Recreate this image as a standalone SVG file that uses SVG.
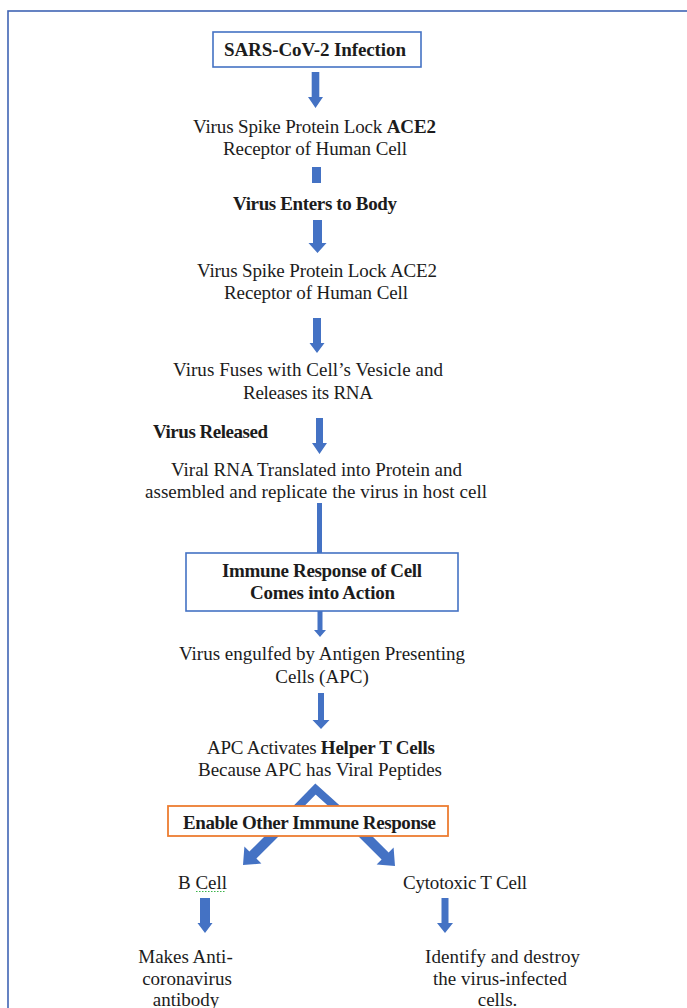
<svg xmlns="http://www.w3.org/2000/svg" width="687" height="1008" viewBox="0 0 687 1008">
<style>
text{font-family:"Liberation Serif","Times New Roman",serif;font-size:19px;fill:#1c1c1c;text-anchor:middle}
.b{font-weight:bold}
.box{fill:#fff;stroke:#4472c4;stroke-width:1.6}
.obox{fill:#fff;stroke:#ed7d31;stroke-width:1.8}
.arr{fill:#4472c4}
</style>
<rect x="0" y="0" width="687" height="1008" fill="#fff"/>
<rect x="8" y="11" width="700" height="1010" fill="none" stroke="#4064b4" stroke-width="1.6"/>
<g id="connectors">
<polygon class="arr" points="311.7,72 319.3,72 319.3,97 323,97 315.5,108 308,97 311.7,97"/>
<rect class="arr" x="312" y="167" width="9" height="16"/>
<polygon class="arr" points="313,220 322,220 322,243 326.5,243 317.5,253 308.5,243 313,243"/>
<polygon class="arr" points="313,318 321,318 321,343 324.5,343 317,353 309.5,343 313,343"/>
<polygon class="arr" points="316,418 323,418 323,443 327,443 319.5,454 312,443 316,443"/>
<rect class="arr" x="317" y="503" width="5" height="52"/>
<polygon class="arr" points="317.5,609 322.5,609 322.5,630 326,630 320,637 314,630 317.5,630"/>
<polygon class="arr" points="318,693 324,693 324,720 329.5,720 321,729 312.5,720 318,720"/>
<polyline points="293,812 315.5,789 341,812" fill="none" stroke="#4472c4" stroke-width="8" stroke-linejoin="miter"/>
<polygon class="arr" points="279.5,835.5 256.4,858.6 261.4,863.6 243,865 244.4,846.6 249.4,851.6 272.5,828.5"/>
<polygon class="arr" points="356.5,834.5 381.6,859.6 376.6,864.6 395,866 393.6,847.6 388.6,852.6 363.5,827.5"/>
<polygon class="arr" points="200,898 210,898 210,923 212.5,923 205,933 197.5,923 200,923"/>
<polygon class="arr" points="441.5,898 448.5,898 448.5,923 453,923 445,933 437,923 441.5,923"/>
</g>
<g id="n1">
<rect class="box" x="213" y="32" width="208" height="35"/>
<text class="b" x="315" y="56" textLength="182">SARS-CoV-2 Infection</text>
</g>
<g id="n2">
<text x="314.5" y="133" textLength="243">Virus Spike Protein Lock <tspan class="b">ACE2</tspan></text>
<text x="315" y="155" textLength="184">Receptor of Human Cell</text>
</g>
<g id="n3">
<text class="b" x="315" y="210" textLength="164">Virus Enters to Body</text>
</g>
<g id="n4">
<text x="317" y="277" textLength="240">Virus Spike Protein Lock ACE2</text>
<text x="316" y="299" textLength="184">Receptor of Human Cell</text>
</g>
<g id="n5">
<text x="308" y="376" textLength="270">Virus Fuses with Cell’s Vesicle and</text>
<text x="308" y="399" textLength="130">Releases its RNA</text>
</g>
<g id="n6">
<text class="b" x="210.5" y="438" textLength="115">Virus Released</text>
</g>
<g id="n7">
<text x="316.5" y="476" textLength="291">Viral RNA Translated into Protein and</text>
<text x="316" y="498" textLength="342">assembled and replicate the virus in host cell</text>
</g>
<g id="n8">
<rect class="box" x="186" y="553" width="272" height="58"/>
<text class="b" x="322" y="577" textLength="200">Immune Response of Cell</text>
<text class="b" x="322.5" y="599" textLength="145">Comes into Action</text>
</g>
<g id="n9">
<text x="322" y="660" textLength="286">Virus engulfed by Antigen Presenting</text>
<text x="322" y="683">Cells (APC)</text>
</g>
<g id="n10">
<text x="321" y="754" textLength="228">APC Activates <tspan class="b">Helper T Cells</tspan></text>
<text x="320" y="776" textLength="244">Because APC has Viral Peptides</text>
</g>
<g id="n11">
<rect class="obox" x="168" y="806" width="280" height="30"/>
<text class="b" x="309.5" y="829" textLength="253">Enable Other Immune Response</text>
</g>
<g id="n12">
<text x="202.5" y="889">B Cell</text>
<line x1="196" y1="891.5" x2="225" y2="891.5" stroke="#3cb44b" stroke-width="1.2" stroke-dasharray="1.5,1.5"/>
</g>
<g id="n13">
<text x="465" y="889" textLength="124">Cytotoxic T Cell</text>
</g>
<g id="n14">
<text x="185.5" y="963">Makes Anti-</text>
<text x="187" y="985">coronavirus</text>
<text x="186" y="1006">antibody</text>
</g>
<g id="n15">
<text x="502.5" y="963" textLength="155">Identify and destroy</text>
<text x="500" y="985" textLength="134">the virus-infected</text>
<text x="497.5" y="1006">cells.</text>
</g>
</svg>
